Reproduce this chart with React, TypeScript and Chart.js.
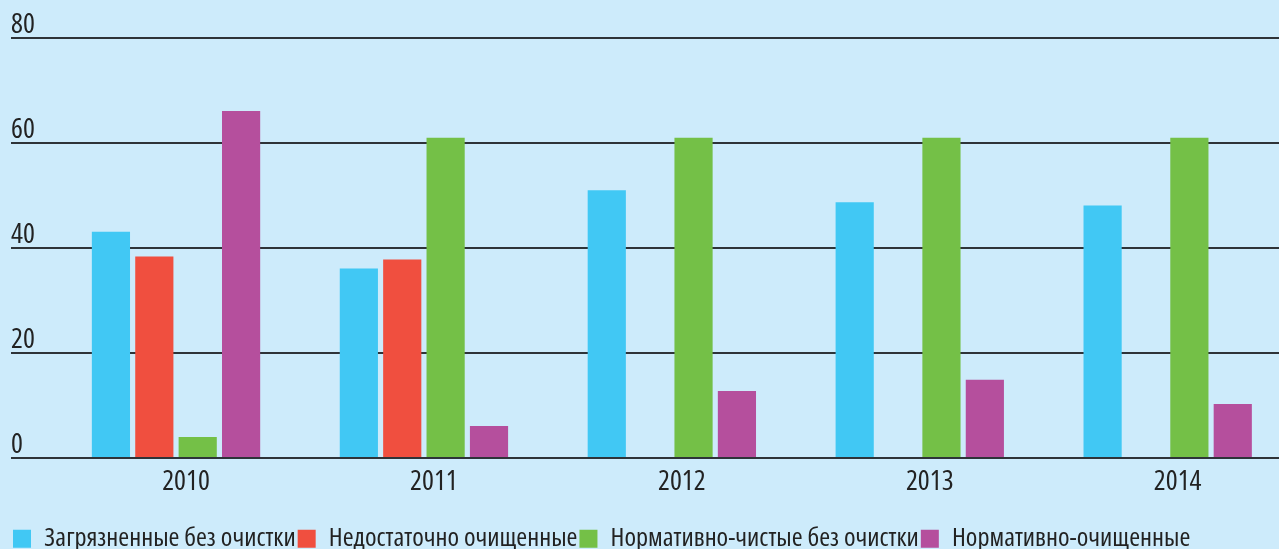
import React, { useEffect, useRef } from "react";
import { Chart, registerables } from "chart.js";

Chart.register(...registerables);

const YEARS = ["2010", "2011", "2012", "2013", "2014"];
const SERIES_NAMES = [
  "Загрязненные без очистки",
  "Недостаточно очищенные",
  "Нормативно-чистые без очистки",
  "Нормативно-очищенные",
];
const POLLUTED = [43.1, 36.1, 51.0, 48.7, 48.1];
const INSUFFICIENT: (number | null)[] = [38.4, 37.8, null, null, null];
const CLEAN = [4.0, 61.0, 61.0, 61.0, 61.0];
const TREATED = [66.1, 6.1, 12.8, 14.9, 10.3];
const Y_TICKS = [0, 20, 40, 60, 80];
const X_TICKS = [0, 1, 2, 3, 4];

const COLORS = ["#41c8f4", "#f04f3f", "#74c047", "#b54f9d"];
const BG = "#cdebfb";
const FAMILY = "'Open Sans', 'DejaVu Sans Condensed', sans-serif";
const TICK_FONT = { family: FAMILY, weight: "normal condensed" as any, size: 28 };
const LEGEND_FONT = { family: FAMILY, weight: "normal condensed" as any, size: 26.3 };

export default function App() {
  const ref = useRef<HTMLCanvasElement | null>(null);

  useEffect(() => {
    document.body.style.margin = "0";
    document.body.style.overflow = "hidden";
    document.body.style.background = BG;
    const series = [POLLUTED, INSUFFICIENT, CLEAN, TREATED];
    const chart = new Chart(ref.current!, {
      type: "bar",
      data: {
        datasets: series.map((vals, i) => ({
          label: SERIES_NAMES[i],
          data: vals.map((v, j) => ({ x: X_TICKS[j], y: v })),
          backgroundColor: COLORS[i],
          borderWidth: 0,
          categoryPercentage: 0.7,
          barPercentage: 0.88,
        })),
      },
      options: {
        animation: false,
        responsive: false,
        maintainAspectRatio: false,
        layout: { padding: { left: 11, right: 0, top: 38, bottom: 0 } },
        plugins: {
          tooltip: { enabled: false },
          legend: {
            position: "bottom",
            align: "start",
            labels: {
              boxWidth: 18,
              boxHeight: 18,
              padding: 2,
              color: "#222",
              font: LEGEND_FONT,
            },
          },
        },
        scales: {
          x: {
            type: "linear",
            min: -0.6656,
            max: 4.449,
            bounds: "data",
            offset: false,
            afterBuildTicks: (scale: any) => {
              scale.ticks = X_TICKS.map((v) => ({ value: v }));
            },
            grid: { display: false, drawTicks: false },
            border: { display: false },
            title: {
              display: true,
              text: "",
              font: { size: 1, lineHeight: 1 },
              padding: { top: 0, bottom: 17 },
            },
            ticks: {
              autoSkip: false,
              maxRotation: 0,
              labelOffset: 10,
              padding: 7,
              color: "#222",
              font: TICK_FONT,
              callback: (v: any) => YEARS[X_TICKS.indexOf(v)] ?? "",
            },
          },
          y: {
            min: 0,
            max: 80,
            afterBuildTicks: (scale: any) => {
              scale.ticks = Y_TICKS.map((v) => ({ value: v }));
            },
            afterFit: (scale: any) => {
              scale.width = 0;
            },
            grid: { color: "#2e3338", lineWidth: 2, drawTicks: false },
            border: { display: false },
            ticks: {
              mirror: true,
              padding: 0,
              labelOffset: -13,
              color: "#222",
              font: TICK_FONT,
            },
          },
        },
      },
    });
    return () => chart.destroy();
  }, []);

  return (
    <div style={{ position: "absolute", left: 0, top: 0, width: 1279, height: 562, background: BG }}>
      <canvas ref={ref} width={1279} height={562} style={{ display: "block" }} />
    </div>
  );
}
